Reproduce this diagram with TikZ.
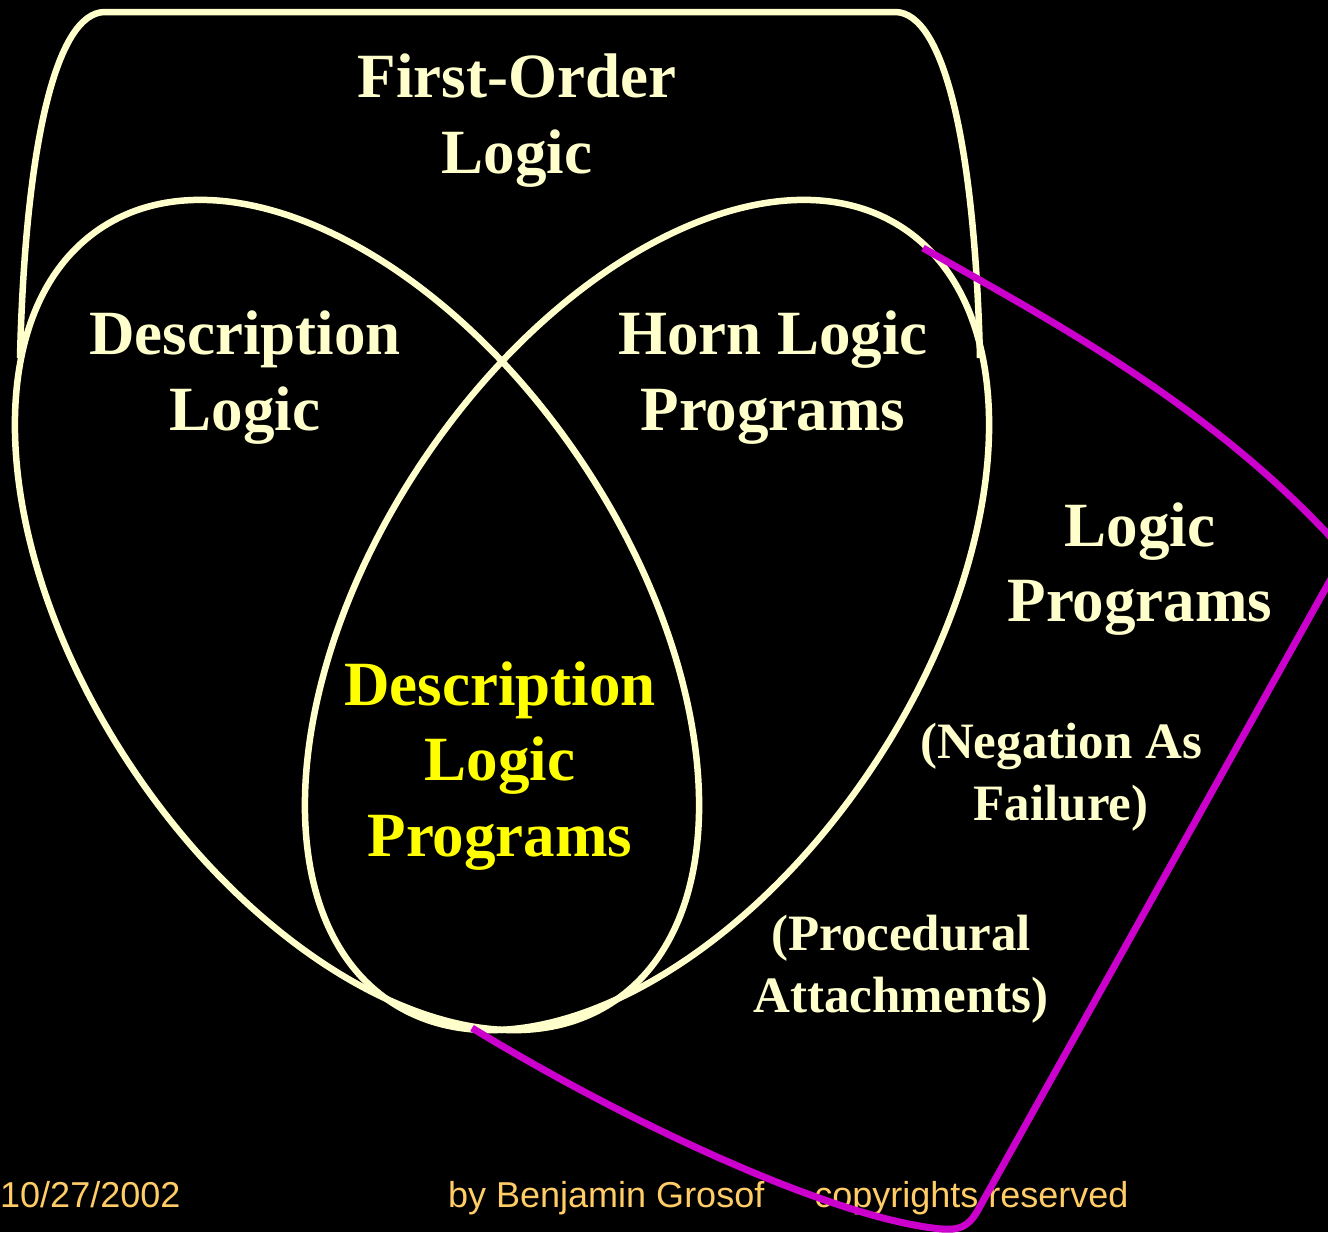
\documentclass[tikz,border=0pt]{standalone}
\usepackage{fontspec}
\setmainfont{Liberation Serif}
\newfontfamily\footfont{Liberation Sans}
\definecolor{ccream}{HTML}{FFFFCC}
\definecolor{cyellow}{HTML}{FFFF00}
\definecolor{cmagenta}{HTML}{CC00CC}
\definecolor{cfoot}{HTML}{FFCC66}
\tikzset{
  region/.style={draw=ccream, line width=6.5pt},
  tag/.style={text=#1, align=center, inner sep=0pt, font=\bfseries\fontsize{63}{75.5}\selectfont},
  tag/.default=ccream,
  smalltag/.style={text=ccream, align=center, inner sep=0pt, font=\bfseries\fontsize{51}{62}\selectfont},
  lpline/.style={draw=cmagenta, line width=7pt, line join=round},
  foot/.style={text=cfoot, inner sep=0pt, font=\footfont\fontsize{36}{40}\selectfont},
}

\begin{document}
\begin{tikzpicture}[x=1pt, y=-1pt]
  \useasboundingbox (0,0) rectangle (1328,1232);
  \clip (0,0) rectangle (1328,1232);
  \fill[black] (0,0) rectangle (1328,1232);
  % first-order logic: open arch
  \draw[region] (20,358) .. controls (25,150) and (55,12) .. (105,12) -- (895,12)
    .. controls (945,12) and (975,150) .. (980,358);
  % description logic and horn logic programs
  \draw[region, rotate around={-56.5:(357,615)}] (357,615) ellipse [x radius=464, y radius=272];
  \draw[region, rotate around={56.5:(647,615)}] (647,615) ellipse [x radius=464, y radius=272];
  \node[tag] (fol) at (517,120.5) {First-Order\\Logic};
  \node[tag] (dl) at (245,377.5) {Description\\Logic};
  \node[tag] (hlp) at (773,377.5) {Horn Logic\\Programs};
  \node[tag] (lp) at (1140,569) {Logic\\Programs};
  \node[tag=cyellow] (dlp) at (500,766) {Description\\Logic\\Programs};
  \node[smalltag] (naf) at (1061,777) {(Negation As\\Failure)};
  \node[smalltag] (pa) at (901,969.5) {(Procedural\\Attachments)};
  \node[foot, anchor=base west] (date) at (0,1207) {10/27/2002};
  \node[foot, anchor=base west] (by) at (448,1207) {by Benjamin Grosof\hspace{50pt}copyrights reserved};
  % logic programs boundary
  \draw[lpline] (923,248) .. controls (1050,320) and (1200,400) .. (1322,528)
    .. controls (1345,550) and (1342,562) .. (1332,577) -- (978,1210)
    .. controls (968,1228) and (958,1230) .. (942,1229)
    .. controls (840,1220) and (640,1130) .. (472,1028);
\end{tikzpicture}
\end{document}
